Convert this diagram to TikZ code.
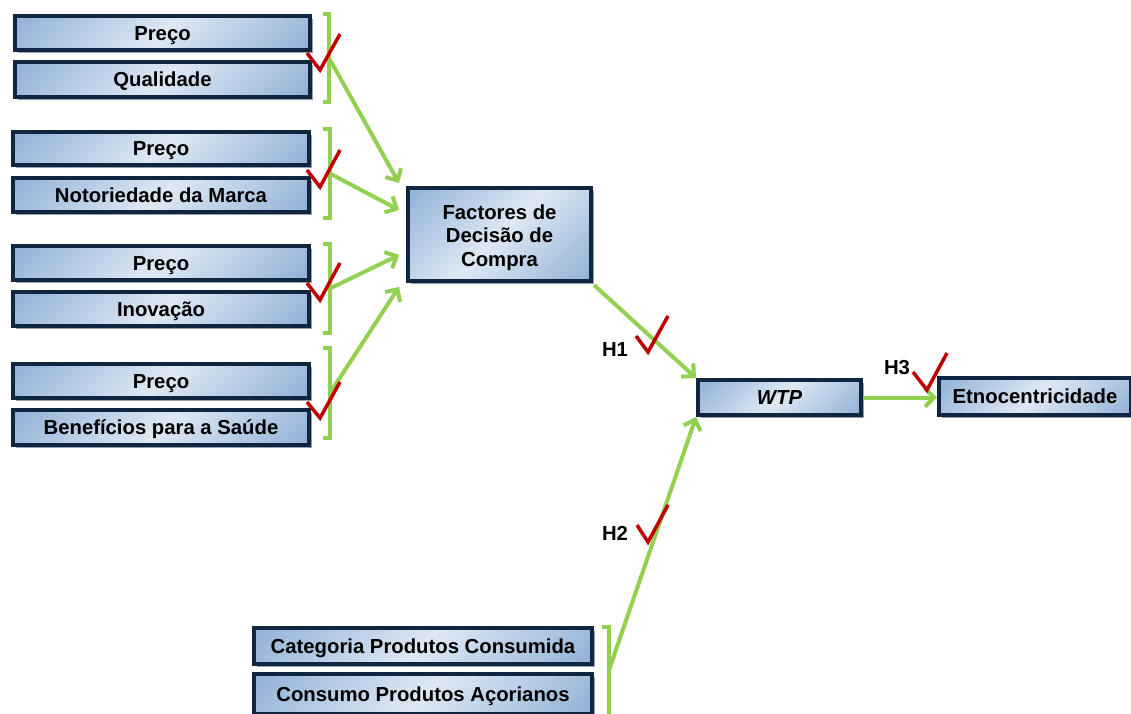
\documentclass[tikz,border=0pt]{standalone}
\usepackage{fontspec}
\setmainfont{Liberation Sans}
\usetikzlibrary{arrows.meta,shadows}

\definecolor{navy}{RGB}{16,37,63}
\definecolor{fillA}{RGB}{150,180,217}
\definecolor{fillB}{RGB}{222,232,243}
\definecolor{shadowgrey}{RGB}{150,160,175}
\definecolor{arrowgreen}{RGB}{146,208,80}
\definecolor{tickred}{RGB}{192,0,0}

% steel blue in two opposite corners, light band along the other diagonal
\pgfdeclarehorizontalshading{boxshade}{100bp}{%
  color(0bp)=(fillA); color(17bp)=(fillA); color(50bp)=(fillB);
  color(83bp)=(fillA); color(100bp)=(fillA)}

\tikzset{
  factor/.style={draw=navy, line width=4pt, shading=boxshade, shading angle=-45,
    drop shadow={shadow xshift=3pt, shadow yshift=-3pt, fill=shadowgrey, opacity=1},
    inner sep=0pt, align=center, text height=14.5pt, text depth=0pt,
    font=\fontsize{20.3}{23.5}\selectfont\bfseries},
  link/.style={draw=arrowgreen, line width=4pt,
    -{Straight Barb[length=9pt,width=18pt]}},
  bracket/.style={draw=arrowgreen, line width=3.5pt},
  tick/.style={draw=tickred, line width=3.5pt, line join=miter},
  hyp/.style={font=\fontsize{20.3}{23}\selectfont\bfseries, inner sep=0pt}
}

\begin{document}
\begin{tikzpicture}[x=1pt,y=-1pt]
\useasboundingbox (0,0) rectangle (1131,713);

% ---- attribute pairs ----
\node[factor, minimum width=295pt, minimum height=34pt] (p1) at (162.5,33)   {Preço};
\node[factor, minimum width=295pt, minimum height=35pt] (q1) at (162.5,79.5) {Qualidade};

\node[factor, minimum width=296pt, minimum height=33pt] (p2) at (161,148.5)  {Preço};
\node[factor, minimum width=296pt, minimum height=34pt] (q2) at (161,195)    {Notoriedade da Marca};

\node[factor, minimum width=296pt, minimum height=34pt] (p3) at (161,263)    {Preço};
\node[factor, minimum width=296pt, minimum height=34pt] (q3) at (161,309)    {Inovação};

\node[factor, minimum width=296pt, minimum height=34pt] (p4) at (161,381)    {Preço};
\node[factor, minimum width=296pt, minimum height=35pt] (q4) at (161,427.5)  {Benefícios para a Saúde};

% ---- central constructs ----
\node[factor, minimum width=183pt, minimum height=93pt, text height=63.5pt, text depth=0pt]
  (fdc) at (499.5,234.5) {Factores de\\Decisão de\\Compra};
\node[factor, minimum width=163pt, minimum height=35pt] (wtp) at (779.5,397.5) {\itshape WTP};
\node[factor, minimum width=192pt, minimum height=37pt] (etno) at (1035,396.5) {Etnocentricidade};

% ---- consumption variables ----
\node[factor, minimum width=338pt, minimum height=36pt] (cat) at (423,646) {Categoria Produtos Consumida};
\node[factor, minimum width=338pt, minimum height=40pt] (acor) at (423,694) {Consumo Produtos Açorianos};

% ---- brackets grouping each pair ----
\draw[bracket] (323,14)  -- (329,14)  -- (329,102) -- (323,102);
\draw[bracket] (323,129) -- (330,129) -- (330,218) -- (323,218);
\draw[bracket] (323,244) -- (330,244) -- (330,333) -- (323,333);
\draw[bracket] (323,348) -- (330,348) -- (330,438) -- (323,438);
\draw[bracket] (602,627) -- (609,627) -- (609,720);

\coordinate (g1) at (329,58);
\coordinate (g2) at (330,173.5);
\coordinate (g3) at (330,288.5);
\coordinate (g4) at (330,393);
\coordinate (g5) at (609,670);

% ---- paths into the decision factors ----
\draw[link] (g1) -- ([shift={(-7,-3)}]fdc.north west);
\draw[link] (g2) -- ([shift={(-7,24)}]fdc.north west);
\draw[link] (g3) -- ([shift={(-7,-28)}]fdc.south west);
\draw[link] (g4) -- ([shift={(-7,4)}]fdc.south west);

% ---- hypotheses ----
\draw[link] ([shift={(1,2)}]fdc.south east) -- (wtp.north west);
\draw[link] (g5) -- (wtp.south west);
\draw[link] (wtp.east) -- (wtp.east -| etno.west);

\node[hyp] (h1) at (615,350) {H1};
\node[hyp] (h2) at (615,533) {H2};
\node[hyp] (h3) at (897,368) {H3};

% ---- check marks ----
\draw[tick] (307,53)  -- (320,70)  -- (340,34);
\draw[tick] (307,170) -- (320,187) -- (340,150);
\draw[tick] (307,283) -- (320,300) -- (340,263);
\draw[tick] (307,402) -- (320,418) -- (340,382);
\draw[tick] (636,336) -- (648,352) -- (668,316);
\draw[tick] (637,525) -- (648,542) -- (668,505);
\draw[tick] (913,372) -- (927,390) -- (947,353);
\end{tikzpicture}
\end{document}
